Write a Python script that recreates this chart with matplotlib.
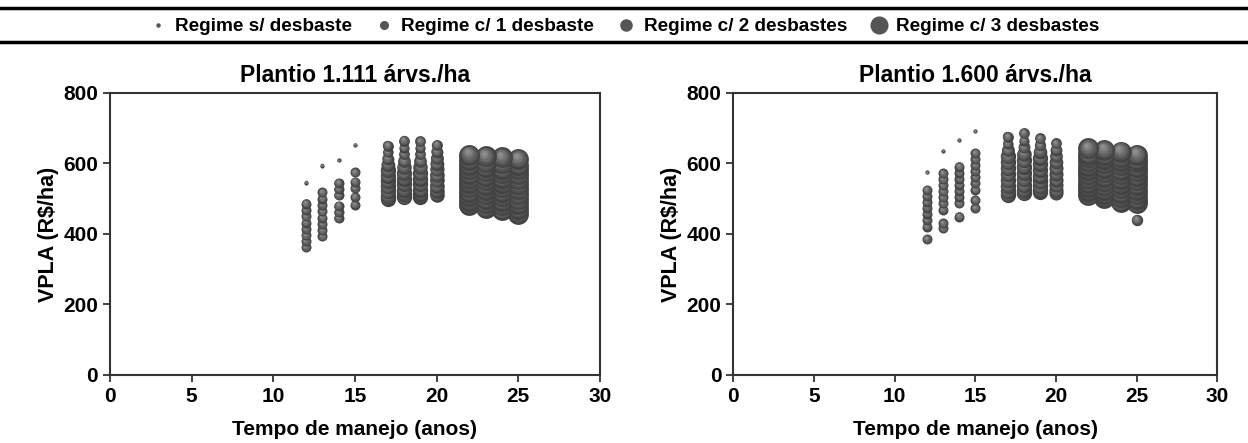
import matplotlib
matplotlib.use("Agg")
import matplotlib.pyplot as plt
from matplotlib.lines import Line2D
from matplotlib.transforms import offset_copy
import numpy as np

plt.rcParams['font.family'] = ['Liberation Sans', 'DejaVu Sans']
plt.rcParams['font.weight'] = 'bold'

# --- Plantio 1.111 arvs./ha ---
p1_s_anos = [12, 13, 14, 15]
p1_s_vpla = [546, 594, 609, 653]

p1_c1_anos = [12] * 8 + [13] * 8 + [14] * 6 + [15] * 5
p1_c1_vpla = [486, 468, 450, 432, 414, 396, 380, 363,
              518, 500, 482, 464, 446, 428, 410, 393,
              545, 528, 510, 480, 462, 445,
              575, 548, 530, 505, 483]

p1_c2_anos = [17] * 11 + [18] * 11 + [19] * 11 + [20] * 10
p1_c2_vpla = [651, 632, 614, 597, 581, 565, 550, 535, 521, 508, 500,
              665, 645, 626, 607, 590, 573, 557, 541, 526, 513, 504,
              663, 645, 626, 607, 590, 573, 557, 541, 526, 514, 506,
              653, 634, 616, 599, 583, 567, 552, 537, 523, 512]
p1_c2_tam = [0.5, 0.45, 0.6, 0.8, 1, 1, 1, 1, 1, 1, 1,
             0.5, 0.45, 0.5, 0.7, 0.9, 1, 1, 1, 1, 1, 1,
             0.5, 0.45, 0.5, 0.7, 0.9, 1, 1, 1, 1, 1, 1,
             0.5, 0.6, 0.7, 0.8, 0.85, 0.9, 0.9, 0.9, 0.9, 0.9]

p1_c3_anos = [22] * 12 + [23] * 12 + [24] * 12 + [25] * 12
p1_c3_vpla = [483, 495, 508, 520, 533, 546, 558, 571, 584, 596, 625, 610,
              474, 487, 500, 513, 526, 539, 552, 565, 578, 591, 620, 604,
              468, 481, 494, 507, 520, 533, 546, 559, 572, 585, 617, 600,
              458, 471, 485, 499, 513, 527, 541, 555, 569, 583, 613, 596]

# --- Plantio 1.600 arvs./ha ---
p2_s_anos = [12, 13, 14, 15]
p2_s_vpla = [575, 636, 667, 692]

p2_c1_anos = [12] * 8 + [13] * 9 + [14] * 8 + [15] * 9
p2_c1_vpla = [525, 508, 491, 475, 458, 440, 421, 385,
              572, 555, 538, 521, 504, 487, 468, 430, 416,
              591, 574, 557, 540, 523, 506, 487, 449,
              629, 612, 595, 578, 561, 544, 525, 496, 473]

p2_c2_anos = [17] * 11 + [18] * 11 + [19] * 11 + [20] * 10
p2_c2_vpla = [676, 656, 638, 620, 603, 586, 569, 552, 536, 521, 510,
              686, 665, 646, 627, 609, 591, 573, 555, 538, 524, 515,
              671, 652, 634, 616, 599, 582, 565, 549, 535, 525, 520,
              657, 639, 621, 604, 587, 570, 554, 538, 524, 516]
p2_c2_tam = [0.5, 0.45, 0.7, 1, 1, 1, 1, 1, 1, 1, 1,
             0.5, 0.45, 0.6, 0.9, 1, 1, 1, 1, 1, 1, 1,
             0.5, 0.55, 0.8, 1, 1, 1, 1, 1, 1, 1, 1,
             0.5, 0.6, 0.7, 0.8, 0.85, 0.85, 0.85, 0.85, 0.85, 0.85]

p2_c3_anos = [22] * 12 + [23] * 12 + [24] * 12 + [25] * 13
p2_c3_vpla = [510, 522, 534, 546, 558, 570, 582, 594, 606, 618, 643, 628,
              502, 514, 526, 538, 550, 562, 575, 588, 601, 614, 639, 624,
              491, 504, 517, 530, 543, 556, 569, 582, 595, 608, 634, 618,
              440, 487, 500, 513, 526, 539, 552, 565, 578, 591, 604, 625, 610]
p2_c3_tam = [1] * 36 + [0.3] + [1] * 12


def ball(ax, x, y, d, z):
    """Grey shaded sphere of diameter d (points) at data position (x, y)."""
    n = 7
    for k in range(n):
        t = k / (n - 1)
        cor = np.array([0.26, 0.26, 0.26]) + t * np.array([0.30, 0.30, 0.30])
        tr = offset_copy(ax.transData, fig=ax.figure,
                         x=-0.10 * d * t, y=0.16 * d * t, units='points')
        ax.scatter([x], [y], s=(d * (1 - 0.8 * t)) ** 2, color=cor,
                   linewidths=0, transform=tr, zorder=z)


def serie(ax, anos, vpla, d, tam=None, z0=3):
    if tam is None:
        tam = [1] * len(anos)
    # lower values first so upper bubbles end on top
    ordem = np.argsort(vpla)
    for i, j in enumerate(ordem):
        ball(ax, anos[j], vpla[j], d * np.sqrt(tam[j]), z0 + i * 0.001)


fig = plt.figure(figsize=(12.48, 4.43), dpi=100)
ax1 = fig.add_axes([0.0881, 0.1535, 0.3926, 0.6366])
ax2 = fig.add_axes([0.5875, 0.1535, 0.3880, 0.6366])

dados = [
    (ax1, 'Plantio 1.111 árvs./ha',
     (p1_s_anos, p1_s_vpla), (p1_c1_anos, p1_c1_vpla),
     (p1_c2_anos, p1_c2_vpla, p1_c2_tam), (p1_c3_anos, p1_c3_vpla, None)),
    (ax2, 'Plantio 1.600 árvs./ha',
     (p2_s_anos, p2_s_vpla), (p2_c1_anos, p2_c1_vpla),
     (p2_c2_anos, p2_c2_vpla, p2_c2_tam), (p2_c3_anos, p2_c3_vpla, p2_c3_tam)),
]

for ax, titulo, s, c1, c2, c3 in dados:
    ax.set_xlim(0, 30)
    ax.set_ylim(0, 800)
    serie(ax, s[0], s[1], 3.0, z0=3)
    serie(ax, c1[0], c1[1], 7.2, z0=4)
    serie(ax, c2[0], c2[1], 11.0, c2[2], z0=5)
    serie(ax, c3[0], c3[1], 15.0, c3[2], z0=6)

    ax.set_xticks(np.arange(0, 31, 5))
    ax.set_yticks(np.arange(0, 801, 200))
    ax.tick_params(labelsize=15, length=5, width=1.3, color='#333333')
    for sp in ax.spines.values():
        sp.set_linewidth(1.5)
        sp.set_color('#333333')
    ax.set_title(titulo, fontsize=16.5, fontweight='bold', pad=8)
    ax.set_xlabel('Tempo de manejo (anos)', fontsize=15, fontweight='bold', labelpad=10)
    ax.set_ylabel('VPLA (R$/ha)', fontsize=15.5, fontweight='bold', labelpad=3)

# legend between two rules across the top
cinza = '#555555'
itens = [
    Line2D([], [], ls='none', marker='o', ms=2.2, color=cinza, label='Regime s/ desbaste'),
    Line2D([], [], ls='none', marker='o', ms=5.5, color=cinza, label='Regime c/ 1 desbaste'),
    Line2D([], [], ls='none', marker='o', ms=8, color=cinza, label='Regime c/ 2 desbastes'),
    Line2D([], [], ls='none', marker='o', ms=12, color=cinza, label='Regime c/ 3 desbastes'),
]
fig.legend(handles=itens, loc='center', bbox_to_anchor=(0.5, 0.94), ncol=4,
           frameon=False, fontsize=13.7, handlelength=1.0, handletextpad=0.4,
           columnspacing=1.2)
for yl in (0.982, 0.905):
    fig.add_artist(Line2D([0, 1], [yl, yl], transform=fig.transFigure,
                          color='black', lw=2.5))

fig.savefig('out.png', dpi=100)
